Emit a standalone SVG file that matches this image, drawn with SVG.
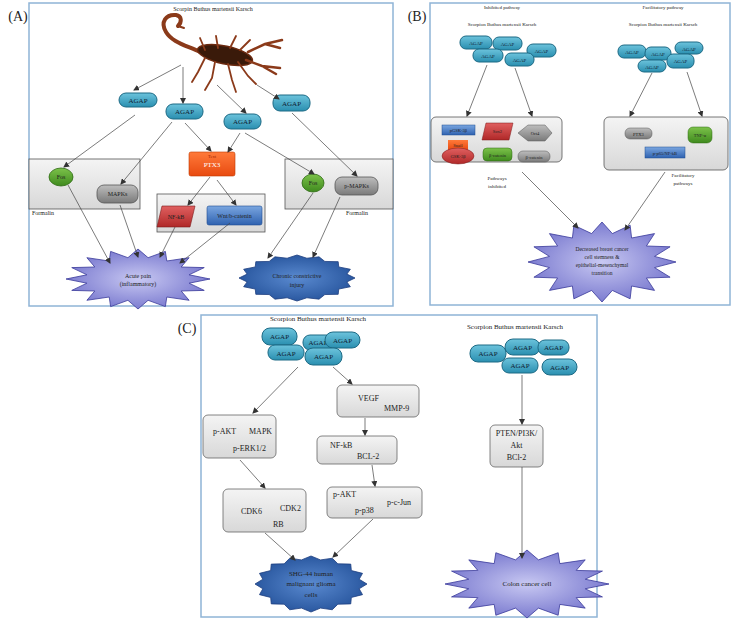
<svg xmlns="http://www.w3.org/2000/svg" width="732" height="622" viewBox="0 0 732 622">
<defs>
<linearGradient id="agap" x1="0" y1="0" x2="0" y2="1"><stop offset="0" stop-color="#6cc3dc"/><stop offset="1" stop-color="#2a8fb0"/></linearGradient>
<linearGradient id="gbox" x1="0" y1="0" x2="0" y2="1"><stop offset="0" stop-color="#f4f4f4"/><stop offset="1" stop-color="#d8d8d8"/></linearGradient>
<linearGradient id="grn" x1="0" y1="0" x2="0" y2="1"><stop offset="0" stop-color="#7cc24a"/><stop offset="1" stop-color="#3f8a1e"/></linearGradient>
<linearGradient id="gry" x1="0" y1="0" x2="0" y2="1"><stop offset="0" stop-color="#bdbdbd"/><stop offset="1" stop-color="#7a7a7a"/></linearGradient>
<linearGradient id="blu" x1="0" y1="0" x2="0" y2="1"><stop offset="0" stop-color="#7aa6e0"/><stop offset="1" stop-color="#2f62b0"/></linearGradient>
<linearGradient id="red" x1="0" y1="0" x2="0" y2="1"><stop offset="0" stop-color="#e06060"/><stop offset="1" stop-color="#b02828"/></linearGradient>
<linearGradient id="org" x1="0" y1="0" x2="0" y2="1"><stop offset="0" stop-color="#ff7a3a"/><stop offset="1" stop-color="#e84a10"/></linearGradient>
<radialGradient id="lav"><stop offset="0" stop-color="#c8c8f2"/><stop offset="1" stop-color="#7c7cd0"/></radialGradient>
<radialGradient id="dbl"><stop offset="0" stop-color="#5a8ad0"/><stop offset="1" stop-color="#2a58a0"/></radialGradient>
<polygon id="star" vector-effect="non-scaling-stroke" points="100,0 71,14 92,38 60,40 71,71 40,60 38,92 14,71 0,100 -14,71 -38,92 -40,60 -71,71 -60,40 -92,38 -71,14 -100,0 -71,-14 -92,-38 -60,-40 -71,-71 -40,-60 -38,-92 -14,-71 0,-100 14,-71 38,-92 40,-60 71,-71 60,-40 92,-38 71,-14"/>
<polygon id="seal" vector-effect="non-scaling-stroke" points="100,0 86,17 92,38 72,48 71,71 48,72 38,92 17,86 0,100 -17,86 -38,92 -48,72 -71,71 -72,48 -92,38 -86,17 -100,0 -86,-17 -92,-38 -72,-48 -71,-71 -48,-72 -38,-92 -17,-86 0,-100 17,-86 38,-92 48,-72 71,-71 72,-48 92,-38 86,-17"/>
<marker id="ar" markerWidth="6" markerHeight="6" refX="5" refY="3" orient="auto" markerUnits="userSpaceOnUse"><path d="M0,0 L6,3 L0,6 Z" fill="#333"/></marker>
</defs>
<style>
text{font-family:"Liberation Serif","DejaVu Serif",serif;fill:#222}
.frame{fill:#fff;stroke:#8fb4d6;stroke-width:1.5}
.agap{fill:url(#agap);stroke:#1d6a85;stroke-width:1}
.at{font-size:7px;text-anchor:middle;fill:#123}
.gb{fill:url(#gbox);stroke:#555;stroke-width:0.8}
.cb{fill:url(#gbox);stroke:#666;stroke-width:0.8}
.t6{font-size:6px;text-anchor:middle}
.t7{font-size:7px;text-anchor:middle}
.t8{font-size:8px}
.t9{font-size:9.5px}
.lbl{font-size:14px;text-anchor:middle}
#connectors line{stroke:#444;stroke-width:0.7;marker-end:url(#ar)}
</style>

<!-- frames -->
<rect class="frame" x="29" y="3" width="364" height="303"/>
<rect class="frame" x="430" y="3" width="300" height="302"/>
<rect class="frame" x="201" y="315" width="396" height="302"/>
<text class="lbl" x="18" y="21">(A)</text>
<text class="lbl" x="417" y="21">(B)</text>
<text class="lbl" x="187" y="333">(C)</text>

<!-- Panel A -->
<g id="titleA"><text class="t6" x="213" y="11">Scorpin Buthus martensii Karsch</text></g>
<g id="scorpion" fill="none" stroke="#8b3a1a" stroke-linecap="round">
<path d="M200,52 C185,45 172,42 166,32 C160,22 166,14 176,15 C182,16 182,22 178,26" stroke-width="4"/>
<path d="M178,26 L184,28" stroke-width="2"/>
<ellipse cx="225" cy="55" rx="28" ry="9" transform="rotate(12 225 55)" fill="#3a1a0a" stroke="#6b2a10" stroke-width="1.5"/>
<path d="M248,52 L265,44 L282,40 M265,44 L280,48" stroke-width="2.5"/>
<path d="M246,60 L262,66 L280,68 M262,66 L276,74" stroke-width="2.5"/>
<path d="M205,58 L198,72 L192,82 M215,62 L212,78 L205,90 M228,64 L232,80 L236,92 M238,62 L248,76 L256,84" stroke-width="1.8"/>
<path d="M205,50 L200,38 M218,48 L216,36 M230,48 L236,36 M240,50 L250,40" stroke-width="1.8"/>
</g>
<g id="agapA1"><rect class="agap" x="119" y="93" width="38" height="14" rx="7"/><text class="at" x="138" y="102.5">AGAP</text></g>
<g id="agapA2"><rect class="agap" x="166" y="104" width="37" height="15" rx="7"/><text class="at" x="184.5" y="114">AGAP</text></g>
<g id="agapA3"><rect class="agap" x="224" y="114" width="37" height="15" rx="7"/><text class="at" x="242.5" y="124">AGAP</text></g>
<g id="agapA4"><rect class="agap" x="273" y="95" width="37" height="16" rx="7"/><text class="at" x="291.5" y="105.5">AGAP</text></g>
<g id="formalinL"><rect class="gb" x="29" y="159" width="111" height="50"/><text class="t6" x="43" y="215">Formalin</text></g>
<g id="fosL"><ellipse cx="61" cy="177" rx="12" ry="9" fill="url(#grn)" stroke="#2c6a10" stroke-width="0.8"/><text class="t6" x="61" y="179">Fos</text></g>
<g id="mapksA"><rect x="97" y="185" width="41" height="18" rx="7" fill="url(#gry)" stroke="#555" stroke-width="0.8"/><text class="t6" x="117.5" y="196">MAPKs</text></g>
<g id="ptx3A"><rect x="189" y="152" width="46" height="24" rx="2" fill="url(#org)" stroke="#c03a00" stroke-width="0.6"/><text class="t6" x="212" y="158" style="font-size:4.5px;fill:#a02000">Text</text><text class="t7" x="212" y="167" style="fill:#fff">PTX3</text></g>
<g id="centerBox"><rect class="gb" x="157" y="194" width="108" height="38"/></g>
<g id="nfkbA"><polygon points="162,206 195,206 190,227 157,227" fill="url(#red)" stroke="#7a1a1a" stroke-width="0.6"/><text class="t6" x="176" y="219">NF-kB</text></g>
<g id="wntA"><rect x="207" y="206" width="55" height="19" rx="2" fill="url(#blu)" stroke="#1e4c90" stroke-width="0.6"/><text class="t6" x="234.5" y="218">Wnt/b-catenin</text></g>
<g id="formalinR"><rect class="gb" x="285" y="159" width="108" height="50"/><text class="t6" x="357" y="215">Formalin</text></g>
<g id="fosR"><ellipse cx="313" cy="183" rx="11" ry="9" fill="url(#grn)" stroke="#2c6a10" stroke-width="0.8"/><text class="t6" x="313" y="185">Fos</text></g>
<g id="pmapksA"><rect x="335" y="177" width="43" height="18" rx="7" fill="url(#gry)" stroke="#555" stroke-width="0.8"/><text class="t6" x="356.5" y="188">p-MAPKs</text></g>
<g id="acute"><use href="#star" transform="translate(138 279) scale(0.72 0.3)" fill="url(#lav)" stroke="#3a3a9a" stroke-width="0.8"/><text class="t6" x="138" y="278">Acute pain</text><text class="t6" x="138" y="286">(inflammatory)</text></g>
<g id="chronic"><use href="#seal" transform="translate(297 278) scale(0.58 0.23)" fill="url(#dbl)" stroke="#1e3f80" stroke-width="0.8"/><text class="t6" x="297" y="278">Chronic constrictive</text><text class="t6" x="297" y="287">injury</text></g>

<!-- Panel B -->
<g id="titleB"><text class="t6" x="502" y="9" style="font-size:5px">Inhibited pathway</text><text class="t6" x="502" y="26" style="font-size:5px">Scorpion Buthus martensii Karsch</text><text class="t6" x="663" y="9" style="font-size:5px">Facilitatory pathway</text><text class="t6" x="663" y="26" style="font-size:5px">Scorpion Buthus martensii Karsch</text></g>
<g id="agapB1"><rect class="agap" x="460" y="36" width="32" height="13" rx="6"/><text class="at" x="476" y="44.5" style="font-size:5px">AGAP</text></g>
<g id="agapB2"><rect class="agap" x="493" y="37" width="29" height="13" rx="6"/><text class="at" x="507.5" y="45.5" style="font-size:5px">AGAP</text></g>
<g id="agapB3"><rect class="agap" x="473" y="49" width="30" height="13" rx="6"/><text class="at" x="488" y="57.5" style="font-size:5px">AGAP</text></g>
<g id="agapB4"><rect class="agap" x="527" y="44" width="29" height="13" rx="6"/><text class="at" x="541.5" y="52.5" style="font-size:5px">AGAP</text></g>
<g id="agapB5"><rect class="agap" x="505" y="53" width="29" height="13" rx="6"/><text class="at" x="519.5" y="61.5" style="font-size:5px">AGAP</text></g>
<g id="agapB6"><rect class="agap" x="618" y="45" width="28" height="13" rx="6"/><text class="at" x="632" y="53.5" style="font-size:5px">AGAP</text></g>
<g id="agapB7"><rect class="agap" x="645" y="47" width="26" height="13" rx="6"/><text class="at" x="658" y="55.5" style="font-size:5px">AGAP</text></g>
<g id="agapB8"><rect class="agap" x="675" y="42" width="28" height="12" rx="6"/><text class="at" x="689" y="50.5" style="font-size:5px">AGAP</text></g>
<g id="agapB9"><rect class="agap" x="667" y="54" width="27" height="14" rx="6"/><text class="at" x="680.5" y="63" style="font-size:5px">AGAP</text></g>
<g id="agapB10"><rect class="agap" x="638" y="60" width="28" height="12" rx="6"/><text class="at" x="652" y="68.5" style="font-size:5px">AGAP</text></g>
<g id="inhBox"><rect class="gb" x="431" y="117" width="131" height="45" rx="5"/><text class="t6" x="497" y="180" style="font-size:5px">Pathways</text><text class="t6" x="497" y="188" style="font-size:5px">inhibited</text></g>
<g id="pgsk"><rect x="442" y="125" width="33" height="10" fill="url(#blu)" stroke="#1e4c90" stroke-width="0.5"/><text class="t6" x="458.5" y="132" style="font-size:4.5px">pGSK-3β</text></g>
<g id="sox2"><polygon points="486,123 513,123 509,140 482,140" fill="url(#red)" stroke="#7a1a1a" stroke-width="0.5"/><text class="t6" x="497.5" y="133" style="font-size:4.5px">Sox2</text></g>
<g id="oct4"><polygon points="518,133 528,125 545,125 552,133 545,141 528,141" fill="url(#gry)" stroke="#555" stroke-width="0.5"/><text class="t6" x="535" y="135" style="font-size:4.5px">Oct4</text></g>
<g id="snail"><rect x="448" y="140" width="20" height="10" fill="url(#org)"/><text class="t6" x="458" y="147" style="font-size:4.5px">Snail</text></g>
<g id="gsk"><ellipse cx="458" cy="156" rx="16" ry="8" fill="url(#red)" stroke="#7a1a1a" stroke-width="0.5"/><text class="t6" x="458" y="158" style="font-size:4.5px">GSK-3β</text></g>
<g id="bcat1"><rect x="483" y="148" width="29" height="13" rx="4" fill="url(#grn)" stroke="#2c6a10" stroke-width="0.5"/><text class="t6" x="497.5" y="156.5" style="font-size:4.5px">β-catenin</text></g>
<g id="bcat2"><rect x="518" y="151" width="32" height="11" rx="5" fill="url(#gry)" stroke="#555" stroke-width="0.5"/><text class="t6" x="534" y="158.5" style="font-size:4.5px">β-catenin</text></g>
<g id="facBox"><rect class="gb" x="604" y="117" width="124" height="53" rx="5"/><text class="t6" x="683" y="177" style="font-size:5px">Facilitatory</text><text class="t6" x="683" y="185" style="font-size:5px">pathways</text></g>
<g id="ptx3B"><rect x="625" y="128" width="27" height="11" rx="5" fill="url(#gry)" stroke="#555" stroke-width="0.5"/><text class="t6" x="638.5" y="135.5" style="font-size:4.5px">PTX3</text></g>
<g id="tnf"><rect x="688" y="127" width="24" height="16" rx="5" fill="url(#grn)" stroke="#2c6a10" stroke-width="0.5"/><text class="t6" x="700" y="137" style="font-size:4.5px">TNF-α</text></g>
<g id="p65"><rect x="645" y="147" width="40" height="11" fill="url(#blu)" stroke="#1e4c90" stroke-width="0.5"/><text class="t6" x="665" y="154.5" style="font-size:4.5px">p-p65/NF-kB</text></g>
<g id="breast"><use href="#star" transform="translate(602 262) scale(0.74 0.4)" fill="url(#lav)" stroke="#3a3a9a" stroke-width="0.8"/><text class="t6" x="602" y="251" style="font-size:5.5px">Decreased breast cancer</text><text class="t6" x="602" y="259" style="font-size:5.5px">cell stemness &amp;</text><text class="t6" x="602" y="267" style="font-size:5.5px">epithelial-mesenchymal</text><text class="t6" x="602" y="275" style="font-size:5.5px">transition</text></g>

<!-- Panel C -->
<g id="titleC"><text class="t7" x="318" y="321">Scorpion Buthus martensii Karsch</text><text class="t7" x="515" y="329">Scorpion Buthus martensii Karsch</text></g>
<g id="agapC1"><rect class="agap" x="262" y="328" width="35" height="17" rx="8"/><text class="at" x="279.5" y="339">AGAP</text></g>
<g id="agapC2"><rect class="agap" x="303" y="335" width="30" height="15" rx="7"/><text class="at" x="318" y="345">AGAP</text></g>
<g id="agapC3"><rect class="agap" x="325" y="332" width="35" height="16" rx="8"/><text class="at" x="342.5" y="343">AGAP</text></g>
<g id="agapC4"><rect class="agap" x="268" y="345" width="36" height="15" rx="7"/><text class="at" x="286" y="355.5">AGAP</text></g>
<g id="agapC5"><rect class="agap" x="305" y="348" width="37" height="17" rx="8"/><text class="at" x="323.5" y="359">AGAP</text></g>
<g id="agapC6"><rect class="agap" x="470" y="345" width="36" height="17" rx="8"/><text class="at" x="488" y="356">AGAP</text></g>
<g id="agapC7"><rect class="agap" x="505" y="339" width="35" height="16" rx="8"/><text class="at" x="522.5" y="350">AGAP</text></g>
<g id="agapC8"><rect class="agap" x="538" y="340" width="31" height="15" rx="7"/><text class="at" x="553.5" y="350">AGAP</text></g>
<g id="agapC9"><rect class="agap" x="502" y="358" width="36" height="15" rx="7"/><text class="at" x="520" y="368">AGAP</text></g>
<g id="agapC10"><rect class="agap" x="542" y="359" width="35" height="16" rx="8"/><text class="at" x="559.5" y="370">AGAP</text></g>
<g id="aktBox"><rect class="cb" x="203" y="415" width="73" height="43" rx="5"/><text class="t8" x="213" y="434">p-AKT</text><text class="t8" x="249" y="434">MAPK</text><text class="t8" x="233" y="451">p-ERK1/2</text></g>
<g id="vegfBox"><rect class="cb" x="337" y="385" width="82" height="32" rx="5"/><text class="t8" x="358" y="401">VEGF</text><text class="t8" x="384" y="411">MMP-9</text></g>
<g id="nfkbBox"><rect class="cb" x="317" y="436" width="80" height="28" rx="5"/><text class="t8" x="330" y="448">NF-kB</text><text class="t8" x="357" y="459">BCL-2</text></g>
<g id="cdkBox"><rect class="cb" x="223" y="489" width="83" height="43" rx="5"/><text class="t8" x="241" y="514">CDK6</text><text class="t8" x="280" y="511">CDK2</text><text class="t8" x="273" y="527">RB</text></g>
<g id="pakt2Box"><rect class="cb" x="327" y="487" width="95" height="31" rx="5"/><text class="t8" x="333" y="497">p-AKT</text><text class="t8" x="387" y="505">p-c-Jun</text><text class="t8" x="355" y="513">p-p38</text></g>
<g id="ptenBox"><rect class="cb" x="490" y="425" width="53" height="42" rx="5"/><text class="t8" x="516.5" y="436" text-anchor="middle">PTEN/PI3K/</text><text class="t8" x="516.5" y="448" text-anchor="middle">Akt</text><text class="t8" x="516.5" y="460" text-anchor="middle">BCl-2</text></g>
<g id="shg"><use href="#seal" transform="translate(311 584) scale(0.56 0.28)" fill="url(#dbl)" stroke="#1e3f80" stroke-width="0.8"/><text class="t7" x="311" y="576">SHG-44 human</text><text class="t7" x="311" y="586">malignant glioma</text><text class="t7" x="311" y="597">cells</text></g>
<g id="colon"><use href="#star" transform="translate(527 584) scale(0.82 0.34)" fill="url(#lav)" stroke="#3a3a9a" stroke-width="0.8"/><text class="t7" x="527" y="586">Colon cancer cell</text></g>

<g id="connectors">
<line x1="181" y1="65" x2="134" y2="90"/>
<line x1="183" y1="67" x2="183" y2="103"/>
<line x1="217" y1="85" x2="246" y2="113"/>
<line x1="257" y1="85" x2="279" y2="99"/>
<line x1="135" y1="115" x2="64" y2="167"/>
<line x1="172" y1="122" x2="121" y2="184"/>
<line x1="185" y1="123" x2="211" y2="151"/>
<line x1="240" y1="133" x2="228" y2="152"/>
<line x1="245" y1="133" x2="314" y2="174"/>
<line x1="292" y1="113" x2="357" y2="176"/>
<line x1="210" y1="177" x2="188" y2="205"/>
<line x1="217" y1="180" x2="236" y2="205"/>
<line x1="68" y1="185" x2="110" y2="263"/>
<line x1="120" y1="205" x2="138" y2="257"/>
<line x1="175" y1="227" x2="160" y2="257"/>
<line x1="230" y1="223" x2="180" y2="263"/>
<line x1="313" y1="193" x2="268" y2="258"/>
<line x1="340" y1="197" x2="313" y2="257"/>
<line x1="487" y1="65" x2="467" y2="116"/>
<line x1="515" y1="68" x2="532" y2="116"/>
<line x1="652" y1="73" x2="630" y2="116"/>
<line x1="687" y1="72" x2="702" y2="116"/>
<line x1="522" y1="172" x2="578" y2="228"/>
<line x1="665" y1="172" x2="625" y2="230"/>
<line x1="298" y1="367" x2="253" y2="413"/>
<line x1="333" y1="367" x2="352" y2="384"/>
<line x1="365" y1="418" x2="365" y2="435"/>
<line x1="372" y1="465" x2="375" y2="486"/>
<line x1="240" y1="460" x2="265" y2="488"/>
<line x1="265" y1="533" x2="295" y2="560"/>
<line x1="373" y1="519" x2="333" y2="557"/>
<line x1="522" y1="375" x2="522" y2="424"/>
<line x1="522" y1="467" x2="522" y2="558"/>
</g>
</svg>
